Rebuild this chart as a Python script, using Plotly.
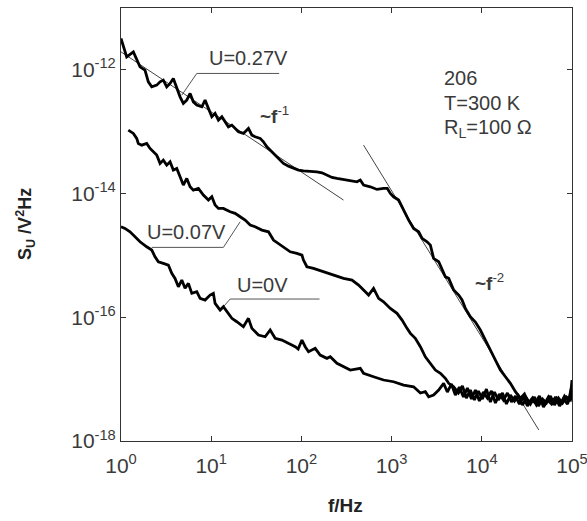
import plotly.graph_objects as go

# ---- data (log10 of f/Hz and log10 of S_U / V^2Hz) ----
logf_027 = [0.000, 0.014, 0.063, 0.137, 0.211, 0.266, 0.303, 0.341, 0.396, 0.433,
            0.469, 0.507, 0.544, 0.580, 0.618, 0.655, 0.691, 0.729, 0.766, 0.802,
            0.840, 0.896, 0.932, 0.969, 1.007, 1.043, 1.080, 1.118, 1.154, 1.191,
            1.229, 1.265, 1.302, 1.357, 1.413, 1.451, 1.487, 1.543, 1.579, 1.617,
            1.654, 1.690, 1.728, 1.765, 1.801, 1.857, 1.912, 1.968, 2.023, 2.098,
            2.172, 2.228, 2.283, 2.339, 2.394, 2.467, 2.542, 2.616, 2.653, 2.689,
            2.764, 2.838, 2.911, 2.952, 2.986, 3.022, 3.078, 3.133, 3.189, 3.244,
            3.300, 3.338, 3.393, 3.430, 3.466, 3.522, 3.559, 3.596, 3.633, 3.688,
            3.744, 3.781, 3.818, 3.873, 3.929, 3.984, 4.040, 4.095, 4.151, 4.206,
            4.262, 4.317, 4.373, 4.428, 4.473, 4.517, 4.562, 4.606, 4.650, 4.695,
            4.739, 4.784, 4.828, 4.872, 4.917, 4.961, 4.983, 5.000]
logS_027 = [-11.492, -11.568, -11.790, -11.709, -11.951, -12.005, -12.194, -12.275, -12.247, -12.194,
            -12.166, -12.275, -12.220, -12.139, -12.300, -12.436, -12.543, -12.489, -12.381, -12.517,
            -12.570, -12.598, -12.489, -12.624, -12.759, -12.704, -12.813, -12.759, -12.840, -12.921,
            -12.893, -12.947, -13.002, -13.028, -12.947, -13.055, -13.082, -13.108, -13.163, -13.244,
            -13.297, -13.351, -13.406, -13.459, -13.512, -13.556, -13.593, -13.621, -13.632, -13.637,
            -13.648, -13.664, -13.701, -13.739, -13.755, -13.771, -13.782, -13.810, -13.782, -13.863,
            -13.890, -13.933, -13.916, -13.916, -13.997, -14.052, -14.105, -14.267, -14.429, -14.563,
            -14.618, -14.724, -14.779, -14.833, -15.048, -15.103, -15.237, -15.345, -15.371, -15.560,
            -15.641, -15.721, -15.856, -15.991, -16.077, -16.206, -16.368, -16.529, -16.691, -16.853,
            -16.961, -17.068, -17.203, -17.310, -17.240, -17.386, -17.305, -17.418, -17.321, -17.402,
            -17.289, -17.386, -17.305, -17.402, -17.273, -17.354, -17.208, -17.095]

logf_007 = [0.081, 0.137, 0.174, 0.192, 0.230, 0.285, 0.322, 0.358, 0.396, 0.433,
            0.469, 0.507, 0.544, 0.580, 0.618, 0.655, 0.691, 0.729, 0.766, 0.802,
            0.858, 0.913, 0.969, 1.007, 1.043, 1.080, 1.135, 1.210, 1.265, 1.321,
            1.376, 1.432, 1.487, 1.562, 1.635, 1.690, 1.746, 1.820, 1.876, 1.950,
            2.006, 2.023, 2.061, 2.134, 2.245, 2.356, 2.467, 2.561, 2.634, 2.689,
            2.745, 2.800, 2.856, 2.911, 2.986, 3.060, 3.116, 3.171, 3.208, 3.263,
            3.319, 3.374, 3.430, 3.485, 3.541, 3.596, 3.633, 3.688, 3.741, 3.785,
            3.829, 3.873, 3.918, 3.962, 4.007, 4.051, 4.095, 4.140, 4.184, 4.229,
            4.273, 4.317, 4.362, 4.406, 4.451, 4.495, 4.539, 4.584, 4.628, 4.673,
            4.717, 4.761, 4.806, 4.850, 4.895, 4.939, 4.983, 5.000]
logS_007 = [-12.974, -13.028, -13.108, -13.189, -13.217, -13.189, -13.270, -13.325, -13.378, -13.512,
            -13.459, -13.540, -13.486, -13.621, -13.593, -13.729, -13.863, -13.755, -13.890, -13.944,
            -13.916, -14.025, -14.105, -14.052, -14.186, -14.240, -14.240, -14.295, -14.320, -14.375,
            -14.429, -14.509, -14.537, -14.590, -14.618, -14.752, -14.805, -14.886, -14.941, -14.967,
            -14.994, -15.075, -15.183, -15.209, -15.264, -15.317, -15.371, -15.398, -15.479, -15.560,
            -15.641, -15.532, -15.694, -15.749, -15.856, -15.936, -16.045, -16.179, -16.260, -16.340,
            -16.476, -16.638, -16.744, -16.853, -16.906, -16.987, -17.068, -17.123, -17.224, -17.111,
            -17.305, -17.176, -17.337, -17.192, -17.321, -17.160, -17.370, -17.208, -17.337, -17.224,
            -17.402, -17.257, -17.354, -17.273, -17.418, -17.305, -17.402, -17.289, -17.434, -17.321,
            -17.386, -17.273, -17.418, -17.305, -17.386, -17.289, -17.337, -17.240]

logf_000 = [0.000, 0.044, 0.100, 0.155, 0.211, 0.285, 0.341, 0.377, 0.414, 0.469,
            0.525, 0.563, 0.599, 0.636, 0.674, 0.710, 0.747, 0.785, 0.840, 0.877,
            0.932, 0.988, 1.024, 1.043, 1.099, 1.135, 1.173, 1.229, 1.284, 1.357,
            1.413, 1.451, 1.524, 1.598, 1.654, 1.709, 1.784, 1.857, 1.931, 1.964,
            2.006, 2.042, 2.079, 2.153, 2.208, 2.283, 2.320, 2.394, 2.467, 2.542,
            2.653, 2.689, 2.800, 2.911, 3.022, 3.133, 3.244, 3.319, 3.374, 3.411,
            3.466, 3.522, 3.577, 3.618, 3.663, 3.707, 3.751, 3.796, 3.840, 3.885,
            3.929, 3.973, 4.018, 4.062, 4.107, 4.151, 4.195, 4.240, 4.284, 4.329,
            4.373, 4.417, 4.462, 4.506, 4.551, 4.595, 4.639, 4.684, 4.728, 4.773,
            4.817, 4.861, 4.906, 4.950, 4.983, 5.000]
logS_000 = [-14.537, -14.563, -14.618, -14.699, -14.779, -14.860, -14.913, -15.022, -15.103, -15.128,
            -15.156, -15.290, -15.371, -15.507, -15.398, -15.532, -15.452, -15.613, -15.587, -15.694,
            -15.721, -15.641, -15.613, -15.775, -15.883, -15.830, -15.911, -16.017, -16.072, -16.153,
            -16.017, -16.179, -16.287, -16.315, -16.206, -16.340, -16.368, -16.421, -16.476, -16.513,
            -16.368, -16.476, -16.557, -16.502, -16.610, -16.664, -16.638, -16.744, -16.799, -16.853,
            -16.825, -16.906, -16.961, -17.014, -17.042, -17.095, -17.123, -17.224, -17.203, -17.284,
            -17.257, -17.176, -17.068, -17.208, -17.079, -17.257, -17.127, -17.289, -17.144, -17.321,
            -17.176, -17.354, -17.208, -17.305, -17.192, -17.386, -17.240, -17.337, -17.224, -17.370,
            -17.273, -17.402, -17.289, -17.434, -17.337, -17.386, -17.273, -17.451, -17.337, -17.402,
            -17.289, -17.434, -17.321, -17.402, -17.273, -17.014]

# fitted power-law guide lines (endpoints, log10)
fit1_logf = [0.000, 2.467]
fit1_logS = [-11.709, -14.105]
fit2_logf = [2.689, 4.632]
fit2_logS = [-13.217, -17.822]

# label leader lines (log10)
lead_027_logf = [0.674, 0.840, 1.754]
lead_027_logS = [-12.409, -12.058, -12.058]
lead_007_logf = [0.341, 1.135, 1.321]
lead_007_logS = [-14.870, -14.870, -14.456]
lead_000_logf = [1.135, 1.210, 2.201]
lead_000_logS = [-15.830, -15.705, -15.705]

x_tickvals = [1, 10, 100, 1000, 10000, 100000]
x_ticktext = ["10<sup>0</sup>", "10<sup>1</sup>", "10<sup>2</sup>", "10<sup>3</sup>",
              "10<sup>4</sup>", "10<sup>5</sup>"]
y_tickvals = [1e-18, 1e-16, 1e-14, 1e-12]
y_ticktext = ["10<sup>-18</sup>", "10<sup>-16</sup>", "10<sup>-14</sup>", "10<sup>-12</sup>"]


def p10(v):
    return [10 ** a for a in v]


FONT = "Liberation Sans, Arial, sans-serif"
TXT = "#3a3a3a"

fig = go.Figure()

for lf, ls in [(fit1_logf, fit1_logS), (fit2_logf, fit2_logS)]:
    fig.add_trace(go.Scatter(x=p10(lf), y=p10(ls), mode="lines",
                             line=dict(color="#444444", width=1), hoverinfo="skip",
                             showlegend=False))

for lf, ls in [(lead_027_logf, lead_027_logS), (lead_007_logf, lead_007_logS),
               (lead_000_logf, lead_000_logS)]:
    fig.add_trace(go.Scatter(x=p10(lf), y=p10(ls), mode="lines",
                             line=dict(color="#555555", width=1), hoverinfo="skip",
                             showlegend=False))

for name, lf, ls in [("U=0.27V", logf_027, logS_027),
                     ("U=0.07V", logf_007, logS_007),
                     ("U=0V", logf_000, logS_000)]:
    fig.add_trace(go.Scatter(x=p10(lf), y=p10(ls), mode="lines", name=name,
                             line=dict(color="black", width=2.8), showlegend=False))

annots = [
    ("U=0.27V", 0.951, -11.816, 20),
    ("U=0.07V", 0.266, -14.618, 20),
    ("U=0V", 1.265, -15.479, 20),
    ("206", 3.559, -12.134, 20),
    ("T=300 K", 3.559, -12.538, 20),
    ("R<sub>L</sub>=100 \u03a9", 3.559, -12.942, 20),
]
for t, ax_, ay_, fs in annots:
    fig.add_annotation(x=ax_, y=ay_, xref="x", yref="y", text=t, showarrow=False,
                       xanchor="left", yanchor="middle",
                       font=dict(family=FONT, size=fs, color=TXT))

fig.add_annotation(x=1.521, y=-12.732, xref="x", yref="y", text="<b>~f</b><sup>-1</sup>",
                   showarrow=False, xanchor="left", yanchor="middle",
                   font=dict(family=FONT, size=19, color=TXT))
fig.add_annotation(x=3.907, y=-15.431, xref="x", yref="y", text="<b>~f</b><sup>-2</sup>",
                   showarrow=False, xanchor="left", yanchor="middle",
                   font=dict(family=FONT, size=19, color=TXT))

# axis titles
fig.add_annotation(x=-0.213, y=0.501, xref="paper", yref="paper",
                   text="<b>S<sub>U</sub> /V<sup>2</sup>Hz</b>", textangle=-90,
                   showarrow=False, xanchor="center", yanchor="middle",
                   font=dict(family=FONT, size=18, color="#222222"))
fig.add_annotation(x=0.497, y=-0.148, xref="paper", yref="paper",
                   text="<b>f/Hz</b>", showarrow=False, xanchor="center", yanchor="middle",
                   font=dict(family=FONT, size=19, color="#222222"))

axis_common = dict(type="log", showgrid=False, zeroline=False, showline=True,
                   linecolor="#333333", linewidth=1, mirror="ticks", ticks="inside",
                   ticklen=5, tickcolor="#333333", ticklabeloverflow="allow",
                   automargin=False,
                   tickfont=dict(family=FONT, size=21, color=TXT))

fig.update_xaxes(range=[0, 5], tickvals=x_tickvals, ticktext=x_ticktext,
                 ticklabelstandoff=6, **axis_common)
fig.update_yaxes(range=[-18, -11], tickvals=y_tickvals, ticktext=y_ticktext, **axis_common)

fig.update_layout(width=587, height=521, margin=dict(l=121, r=15, t=8, b=80),
                  plot_bgcolor="white", paper_bgcolor="white", showlegend=False)

fig.write_html("out.html")
